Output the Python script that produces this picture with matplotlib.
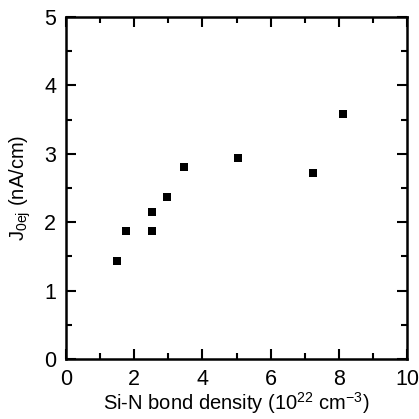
import matplotlib
matplotlib.use("Agg")
import matplotlib.pyplot as plt
from matplotlib.ticker import MultipleLocator

plt.rcParams['font.family'] = ['Liberation Sans', 'DejaVu Sans']
plt.rcParams['mathtext.fontset'] = 'custom'
plt.rcParams['mathtext.rm'] = 'Liberation Sans'
plt.rcParams['mathtext.it'] = 'Liberation Sans'

density = [1.49, 1.75, 2.51, 2.51, 2.97, 3.46, 5.04, 7.24, 8.13]
j0ej = [1.44, 1.87, 1.87, 2.15, 2.37, 2.80, 2.94, 2.72, 3.58]

fig = plt.figure(figsize=(4.19, 4.19), dpi=100)
ax = fig.add_axes([66/419, 1-359/419, (407-66)/419, (359-17)/419])
ax.scatter(density, j0ej, marker='s', s=30, color='black', linewidths=0, zorder=3)
ax.set_xlim(0, 10)
ax.set_ylim(0, 5)
ax.xaxis.set_major_locator(MultipleLocator(2))
ax.xaxis.set_minor_locator(MultipleLocator(1))
ax.yaxis.set_major_locator(MultipleLocator(1))
ax.yaxis.set_minor_locator(MultipleLocator(0.5))
ax.tick_params(which='both', direction='in', top=True, right=True, width=1.5, labelsize=15.5, pad=7)
ax.tick_params(which='major', length=7)
ax.tick_params(which='minor', length=4)
for s in ax.spines.values():
    s.set_linewidth(1.8)
ax.set_xlabel(r'Si-N bond density (10$^{22}$ cm$^{-3}$)', fontsize=14.5, labelpad=0)
ax.set_ylabel(r'J$_{\mathrm{0ej}}$ (nA/cm)', fontsize=14.5, labelpad=8)
fig.savefig('out.png', dpi=100)
